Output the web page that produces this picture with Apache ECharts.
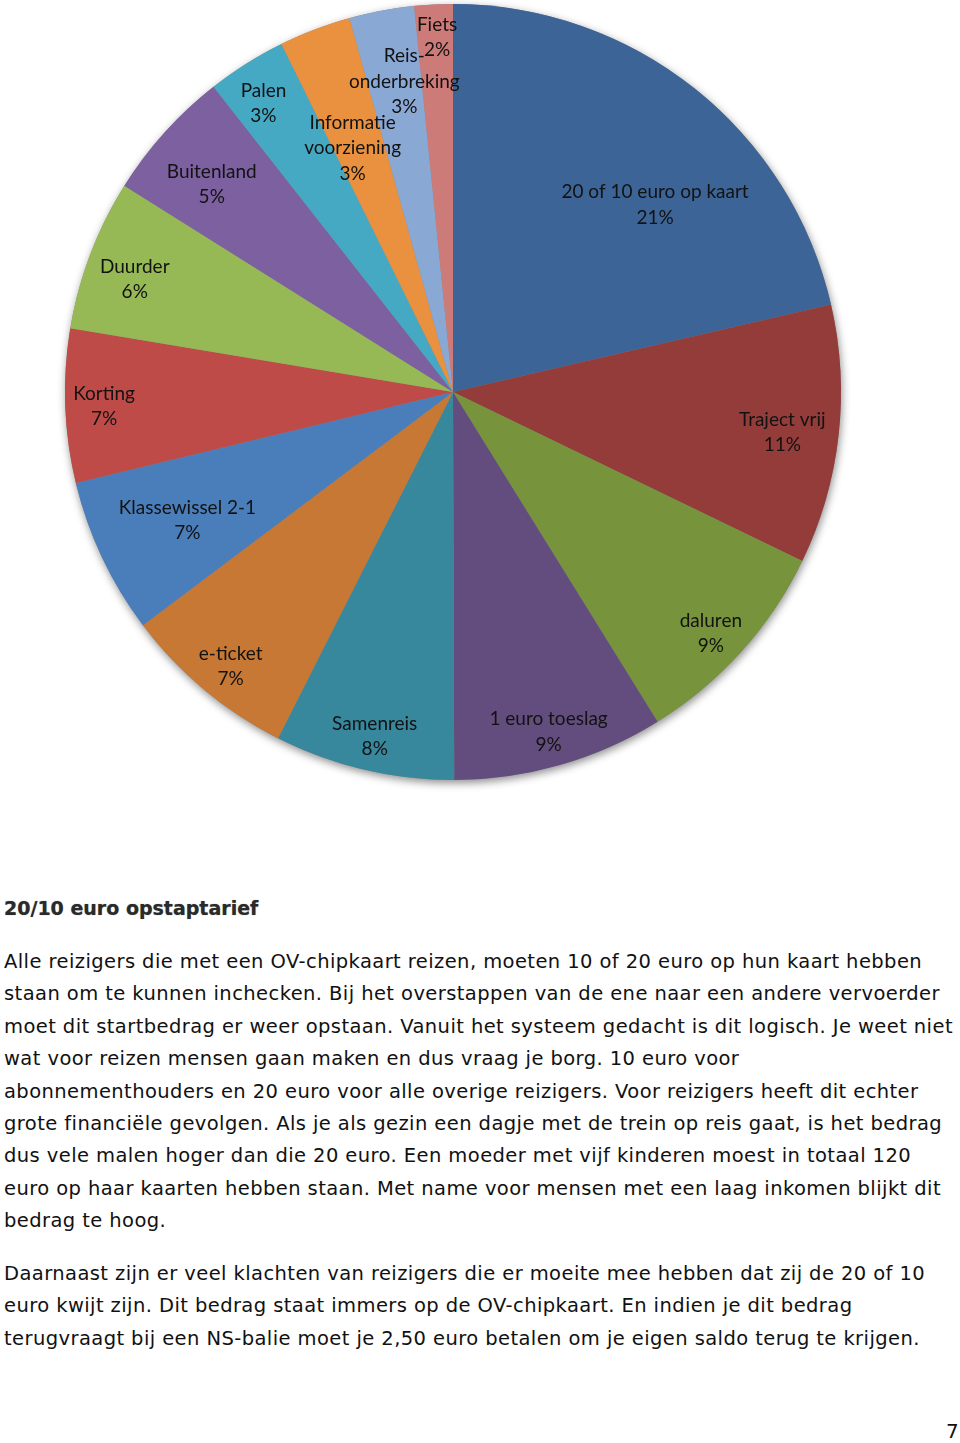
<!DOCTYPE html>
<html>
<head>
<meta charset="utf-8">
<script src="https://cdn.jsdelivr.net/npm/echarts@6/dist/echarts.min.js"></script>
<style>
  html, body { margin: 0; padding: 0; background: #fff; }
  body { width: 960px; height: 1443px; position: relative; overflow: hidden; }
  #chart { position: absolute; left: 0; top: 0; width: 960px; height: 800px; }
  .txt { position: absolute; left: 4px; font-family: "DejaVu Sans", sans-serif; color: #111; white-space: nowrap; }
  #heading { top: 897px; font-size: 19px; font-weight: bold; color: #2a2a2a; text-shadow: 0 0 1px #888; }
  #p1 { top: 946px; font-size: 19.5px; line-height: 32.4px; letter-spacing: 0.42px; }
  #p2 { top: 1258px; font-size: 19.5px; line-height: 32.4px; letter-spacing: 0.42px; }
  #page { position: absolute; left: 946px; top: 1419px; font-family: "DejaVu Sans", sans-serif; font-size: 20px; color: #111; }
</style>
</head>
<body>
<div id="chart"></div>
<div class="txt" id="heading">20/10 euro opstaptarief</div>
<div class="txt" id="p1">Alle reizigers die met een OV-chipkaart reizen, moeten 10 of 20 euro op hun kaart hebben<br>staan om te kunnen inchecken. Bij het overstappen van de ene naar een andere vervoerder<br>moet dit startbedrag er weer opstaan. Vanuit het systeem gedacht is dit logisch. Je weet niet<br>wat voor reizen mensen gaan maken en dus vraag je borg. 10 euro voor<br>abonnementhouders en 20 euro voor alle overige reizigers. Voor reizigers heeft dit echter<br>grote financiële gevolgen. Als je als gezin een dagje met de trein op reis gaat, is het bedrag<br>dus vele malen hoger dan die 20 euro. Een moeder met vijf kinderen moest in totaal 120<br>euro op haar kaarten hebben staan. Met name voor mensen met een laag inkomen blijkt dit<br>bedrag te hoog.</div>
<div class="txt" id="p2">Daarnaast zijn er veel klachten van reizigers die er moeite mee hebben dat zij de 20 of 10<br>euro kwijt zijn. Dit bedrag staat immers op de OV-chipkaart. En indien je dit bedrag<br>terugvraagt bij een NS-balie moet je 2,50 euro betalen om je eigen saldo terug te krijgen.</div>
<div id="page">7</div>
<script>
// ---- data ----
const categories = ['20 of 10 euro op kaart', 'Traject vrij', 'daluren', '1 euro toeslag', 'Samenreis', 'e-ticket',
  'Klassewissel 2-1', 'Korting', 'Duurder', 'Buitenland', 'Palen', 'Informatie\nvoorziening', 'Reis-\nonderbreking', 'Fiets'];
const values = [21.4, 10.8, 9.0, 8.8, 7.5, 7.3, 6.5, 6.4, 6.3, 5.5, 3.3, 3.0, 2.7, 1.6];
const pctLabels = ['21%', '11%', '9%', '9%', '8%', '7%', '7%', '7%', '6%', '5%', '3%', '3%', '3%', '2%'];

// ---- styles / layout ----
const colors = ['#3C6496', '#943C3A', '#77933C', '#634D7E', '#37879D', '#C67834', '#4A7EBB',
  '#BE4B48', '#97B955', '#7D60A0', '#46A9C4', '#E9913F', '#8AA8D4', '#CD7B79'];
const CX = 453, CY = 392, R = 388;
const labelRadius = [0.71, 0.855, 0.91, 0.91, 0.91, 0.91, 0.76, 0.90, 0.87, 0.82, 0.89, 0.68, 0.81, 0.915];
const labelAngleShift = [-8.7, -0.6, -1.1, -0.3, 0.5, 0.9, 0.5, 0.3, 1.3, 1.3, 1.1, 1.5, -1.7, -0.3];

const total = values.reduce((a, b) => a + b, 0);
const midAngles = [];
let cum = 0;
values.forEach(v => { midAngles.push(90 - 360 * (cum + v / 2) / total); cum += v; });

const chart = echarts.init(document.getElementById('chart'), null, { renderer: 'canvas' });
chart.setOption({
  animation: false,
  series: [
    {
      type: 'pie', silent: true, center: [CX, CY], radius: R, z: 1,
      label: { show: false }, labelLine: { show: false },
      itemStyle: { color: '#888', shadowBlur: 8, shadowColor: 'rgba(0,0,0,0.45)', shadowOffsetX: 1, shadowOffsetY: 3 },
      data: [{ value: 1, name: '' }]
    },
    {
      type: 'pie', center: [CX, CY], radius: R, startAngle: 90, clockwise: true, z: 2,
      avoidLabelOverlap: false,
      itemStyle: { borderWidth: 0 },
      label: {
        show: true, position: 'inside', color: '#121212',
        fontFamily: 'Lato', fontSize: 19, lineHeight: 25.5,
        formatter: p => p.name + '\n' + pctLabels[p.dataIndex]
      },
      labelLine: { show: false },
      labelLayout: function (p) {
        const i = p.dataIndex;
        const a = (midAngles[i] + labelAngleShift[i]) * Math.PI / 180;
        const r = R * labelRadius[i];
        return { x: CX + r * Math.cos(a), y: CY - r * Math.sin(a), align: 'center', verticalAlign: 'middle' };
      },
      data: categories.map((c, i) => ({ name: c, value: values[i], itemStyle: { color: colors[i] } }))
    }
  ]
});
</script>
</body>
</html>
